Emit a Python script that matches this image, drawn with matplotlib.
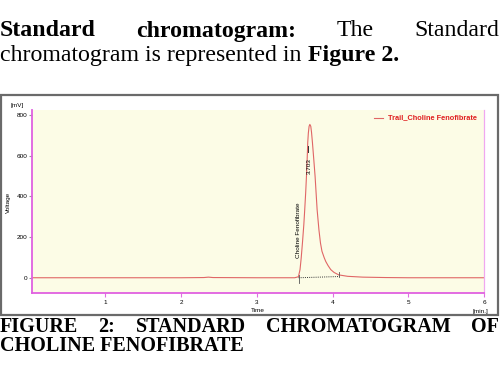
import matplotlib
matplotlib.use('Agg')
import matplotlib.pyplot as plt
from matplotlib.patches import Rectangle

# chromatogram values
time_min = [0.03, 1.0, 2.0, 2.30, 2.36, 2.42, 3.0, 3.50, 3.549, 3.57, 3.585, 3.602, 3.62, 3.632,
            3.645, 3.655, 3.665, 3.672, 3.68, 3.69, 3.70, 3.712, 3.722, 3.734, 3.750, 3.769,
            3.796, 3.82, 3.840, 3.86, 3.89, 3.910, 3.94, 3.976, 4.02, 4.082,
            4.20, 4.40, 4.70, 5.0, 6.0]
signal_mv = [0, 0, 0, 1, 3, 1, 0, 0, 5, 40, 95, 171, 260, 334,
             420, 499, 590, 665, 712, 745, 754, 745, 715, 665, 590, 499,
             334, 235, 171, 130, 98, 80, 60, 40, 26, 14,
             7, 3, 1, 0, 0]

peak_rt = 3.703
peak_name = 'Choline Fenofibrate'
peak_start, peak_end = 3.55, 4.09
series_label = 'Trail_Choline Fenofibrate'
y_ticks = [0, 200, 400, 600, 800]
x_ticks = [1, 2, 3, 4, 5, 6]

body_line1 = [('Standard', True), ('chromatogram:', True), ('The', False), ('Standard', False)]
body_line2 = [('chromatogram is represented in ', False), ('Figure 2.', True)]
caption_line1 = ['FIGURE', '2:', 'STANDARD', 'CHROMATOGRAM', 'OF']
caption_line2 = 'CHOLINE FENOFIBRATE'

W, H = 500, 368
fig = plt.figure(figsize=(5.0, 3.68), dpi=100)
fig.patch.set_facecolor('white')
serif = ['Liberation Serif', 'DejaVu Serif']
sans = ['Liberation Sans', 'DejaVu Sans']


def px(x, y):
    return x / W, 1 - y / H


def justify(words, y, size, left=0, right=499):
    # spread the words over the whole line
    r = fig.canvas.get_renderer()
    arts = []
    for w, b in words:
        t = fig.text(0, 1 - y / H, w, fontsize=size, family=serif,
                     fontweight='bold' if b else 'normal', va='center', ha='left')
        arts.append(t)
    widths = [a.get_window_extent(r).width for a in arts]
    gap = (right - left - sum(widths)) / (len(arts) - 1)
    x = left
    for a, wd in zip(arts, widths):
        a.set_x(x / W)
        x += wd + gap


def flow(words, y, size, left=0):
    r = fig.canvas.get_renderer()
    x = left
    for w, b in words:
        t = fig.text(x / W, 1 - y / H, w, fontsize=size, family=serif,
                     fontweight='bold' if b else 'normal', va='center', ha='left')
        x += t.get_window_extent(r).width


justify(body_line1, 31, 17.2)
flow(body_line2, 55, 17.2)
justify([(w, True) for w in caption_line1], 327, 14.5)
flow([(caption_line2, True)], 346, 14.5)

# gray frame of the pasted picture
fig.patches.append(Rectangle(px(1, 315), 497 / W, 220 / H, transform=fig.transFigure,
                             fill=False, edgecolor='#6a6a6a', lw=1.6))

ax = fig.add_axes([32 / W, 1 - 293 / H, 452 / W, 183 / H])
ax.set_facecolor('#fcfce6')
ax.plot(time_min, signal_mv, color='#e06666', lw=0.8)
ax.plot([peak_start, peak_end], [0, 6], color='#333333', lw=0.7, ls=(0, (1, 1.2)))
ax.plot([peak_start, peak_start], [-25, 12], color='#555555', lw=0.6)
ax.plot([peak_end, peak_end], [2, 28], color='#555555', lw=0.6)
ax.plot([3.675, 3.675], [620, 650], color='#333333', lw=0.7)
ax.text(peak_rt - 0.01, 550, '3.703', rotation=90, fontsize=4.6, family=sans,
        ha='center', va='center')
ax.text(3.545, 232, peak_name, rotation=90, fontsize=4.6, family=sans,
        ha='center', va='center')

ax.set_xlim(0.03, 6.0)
ax.set_ylim(-75, 825)
ax.set_xticks(x_ticks)
ax.set_yticks(y_ticks)
ax.tick_params(axis='x', direction='out', length=3, color='#e070e0', labelsize=4.6, pad=2)
ax.tick_params(axis='y', direction='out', length=2, color='#999999', labelsize=4.6, pad=1)
for lab in ax.get_xticklabels() + ax.get_yticklabels():
    lab.set_family(sans)
ax.spines['top'].set_visible(False)
for s in ['left', 'bottom']:
    ax.spines[s].set_color('#e060e0')
    ax.spines[s].set_linewidth(1.3)
ax.spines['right'].set_color('#f0a8f0')
ax.spines['right'].set_linewidth(0.9)

# legend drawn as in the instrument software
ax.plot([4.545, 4.66], [788, 788], color='#e06666', lw=0.8)
ax.text(4.73, 788, series_label, color='#e02020', fontsize=5.3, fontweight='bold',
        family=sans, va='center', ha='left')

fig.text(*px(17, 106), '[mV]', fontsize=4.6, family=sans, ha='center', va='center')
fig.text(*px(8, 202), 'Voltage', fontsize=4.6, family=sans, rotation=90, ha='center', va='center')
fig.text(*px(258, 311), 'Time', fontsize=4.6, family=sans, ha='center', va='center')
fig.text(*px(480, 311), '[min.]', fontsize=4.6, family=sans, ha='center', va='center')

fig.savefig('out.png', dpi=100)
